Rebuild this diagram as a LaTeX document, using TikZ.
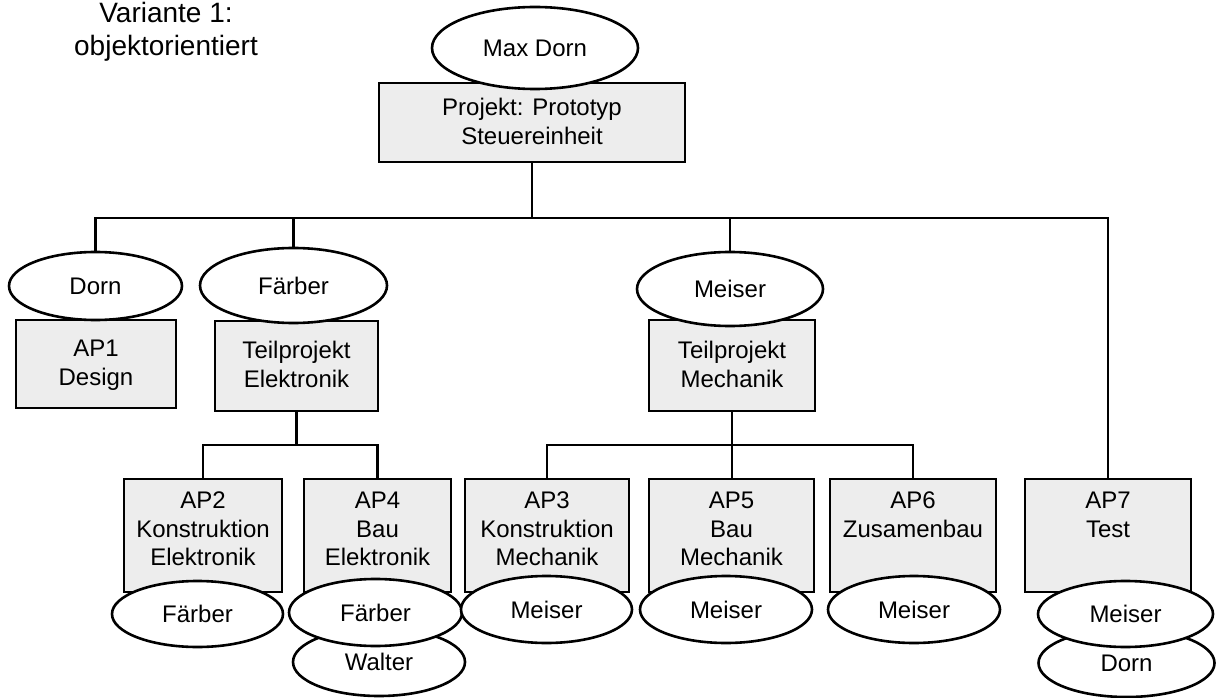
\documentclass[tikz,border=0pt]{standalone}
\usepackage{fontspec}
\setmainfont{Liberation Sans}
\usetikzlibrary{shapes.geometric,backgrounds}
\definecolor{boxgray}{RGB}{237,237,237}
\tikzset{
  pbox/.style={draw=black, line width=2.9pt, fill=boxgray, inner sep=0pt,
    minimum width=#1},
  btxt/.style={anchor=north, inner sep=0pt, align=center,
    font=\fontsize{24}{28.5}\selectfont},
  person/.style={ellipse, draw=black, line width=2.6pt, fill=white, inner sep=0pt,
    text height=17.2pt, text depth=0pt, font=\fontsize{24}{28.5}\selectfont},
  link/.style={draw=black, line width=2.8pt},
}
\begin{document}
\begin{tikzpicture}[x=1pt, y=-1pt]
\useasboundingbox (0,0) rectangle (1218,698);

% heading
\node[anchor=north, inner sep=0pt, align=center,
  font=\fontsize{28}{33}\selectfont] (title) at (166,2) {Variante 1:\\objektorientiert};

% bus lines
\coordinate (bus) at (0,218);
\coordinate (ebus) at (0,445);
\coordinate (mbus) at (0,445);

% boxes
\node[pbox=306pt, minimum height=79pt] (proj) at (532,122.5) {};
\node[pbox=160pt, minimum height=88pt] (ap1) at (96,364) {};
\node[pbox=163pt, minimum height=90pt] (te) at (296.5,366) {};
\node[pbox=166pt, minimum height=91pt] (tm) at (732,365.5) {};
\node[pbox=158pt, minimum height=113pt] (ap2) at (203,535.5) {};
\node[pbox=147pt, minimum height=113pt] (ap4) at (377.5,535.5) {};
\node[pbox=164pt, minimum height=113pt] (ap3) at (547,535.5) {};
\node[pbox=165pt, minimum height=113pt] (ap5) at (731.5,535.5) {};
\node[pbox=166pt, minimum height=113pt] (ap6) at (913,535.5) {};
\node[pbox=166pt, minimum height=113pt] (ap7) at (1108,535.5) {};

% box texts
\node[btxt] (projt) at (532,98) {Projekt: Prototyp\\Steuereinheit};
\node[btxt] (ap1t) at (96,340) {AP1\\Design};
\node[btxt] (tet) at (296.5,341) {Teilprojekt\\Elektronik};
\node[btxt] (tmt) at (732,341) {Teilprojekt\\Mechanik};
\node[btxt] (ap2t) at (203,492) {AP2\\Konstruktion\\Elektronik};
\node[btxt] (ap4t) at (377.5,492) {AP4\\Bau\\Elektronik};
\node[btxt] (ap3t) at (547,492) {AP3\\Konstruktion\\Mechanik};
\node[btxt] (ap5t) at (731.5,492) {AP5\\Bau\\Mechanik};
\node[btxt] (ap6t) at (913,492) {AP6\\Zusamenbau};
\node[btxt] (ap7t) at (1108,492) {AP7\\Test};

% responsible persons
\node[person, minimum width=206pt, minimum height=82pt] (maxdorn) at (535,48) {Max Dorn};
\node[person, minimum width=173pt, minimum height=68pt] (dorn1) at (95.5,286) {Dorn};
\node[person, minimum width=187pt, minimum height=75pt] (faerber1) at (293.5,285.5) {Färber};
\node[person, minimum width=186pt, minimum height=74pt] (meiser1) at (730,289) {Meiser};
\node[person, minimum width=171pt, minimum height=66pt] (faerber2) at (197.5,614) {Färber};
\node[person, minimum width=172pt, minimum height=68pt] (walter) at (379,662) {Walter};
\node[person, minimum width=173pt, minimum height=67pt] (faerber3) at (375.5,612.5) {Färber};
\node[person, minimum width=171pt, minimum height=67pt] (meiser3) at (546.5,609.5) {Meiser};
\node[person, minimum width=172pt, minimum height=67pt] (meiser5) at (726,609.5) {Meiser};
\node[person, minimum width=172pt, minimum height=67pt] (meiser6) at (914,609.5) {Meiser};
\node[person, minimum width=176pt, minimum height=68pt] (dorn7) at (1126.5,663) {Dorn};
\node[person, minimum width=175pt, minimum height=66pt] (meiser7) at (1125.5,614) {Meiser};

% connectors, behind the boxes and ellipses
\begin{pgfonlayer}{background}
\draw[link] (proj.south) -- (proj.south |- bus) -| (dorn1.north);
\draw[link] (proj.south |- bus) -| (faerber1.north);
\draw[link] (proj.south |- bus) -| (meiser1.north);
\draw[link] (proj.south |- bus) -| (ap7.north);
\draw[link] (te.south) -- (te.south |- ebus) -| (ap2.north);
\draw[link] (te.south |- ebus) -| (ap4.north);
\draw[link] (tm.south) -- (tm.south |- ap5.north);
\draw[link] (tm.south |- mbus) -| (ap3.north);
\draw[link] (tm.south |- mbus) -| (ap6.north);
\end{pgfonlayer}
\end{tikzpicture}
\end{document}
